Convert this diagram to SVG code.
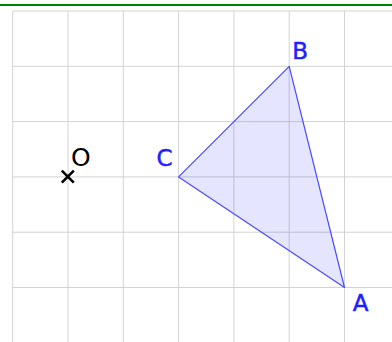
<svg xmlns="http://www.w3.org/2000/svg" width="392" height="342" viewBox="0 0 392 342">
<style>
.grid line{stroke:#d3d3d3;stroke-width:1}
.lbl{font-family:"DejaVu Sans",sans-serif;font-size:23px;fill:#1f1fff;stroke:#1f1fff;stroke-width:0.5}
.lblO{font-family:"DejaVu Sans",sans-serif;font-size:25px;fill:#000}
</style>
<rect width="392" height="342" fill="#fff"/>
<line x1="0" y1="5" x2="392" y2="5" stroke="#008000" stroke-width="2"/>
<g class="grid" id="grid">
<line x1="12.7" y1="11" x2="12.7" y2="342"/>
<line x1="68" y1="11" x2="68" y2="342"/>
<line x1="123.3" y1="11" x2="123.3" y2="342"/>
<line x1="178.6" y1="11" x2="178.6" y2="342"/>
<line x1="233.9" y1="11" x2="233.9" y2="342"/>
<line x1="289.2" y1="11" x2="289.2" y2="342"/>
<line x1="344.5" y1="11" x2="344.5" y2="342"/>
<line x1="12.7" y1="11" x2="392" y2="11"/>
<line x1="12.7" y1="66.3" x2="392" y2="66.3"/>
<line x1="12.7" y1="121.6" x2="392" y2="121.6"/>
<line x1="12.7" y1="176.9" x2="392" y2="176.9"/>
<line x1="12.7" y1="232.2" x2="392" y2="232.2"/>
<line x1="12.7" y1="287.5" x2="392" y2="287.5"/>
</g>
<g id="triangle">
<polygon points="289.2,66.3 344.5,287.5 178.6,176.9" fill="#0000ff" fill-opacity="0.1" stroke="#4a4aff" stroke-width="1.2" stroke-linejoin="round"/>
</g>
<g id="point-O">
<path d="M61.8,170.6 L73.8,182.6 M73.8,170.6 L61.8,182.6" stroke="#000" stroke-width="2.6"/>
<text class="lblO" x="71" y="165.8">O</text>
</g>
<g id="point-A"><text class="lbl" x="352.8" y="310.9">A</text></g>
<g id="point-B"><text class="lbl" x="292.3" y="58.8">B</text></g>
<g id="point-C"><text class="lbl" x="156.5" y="166">C</text></g>
<g id="connectors"></g>
</svg>
